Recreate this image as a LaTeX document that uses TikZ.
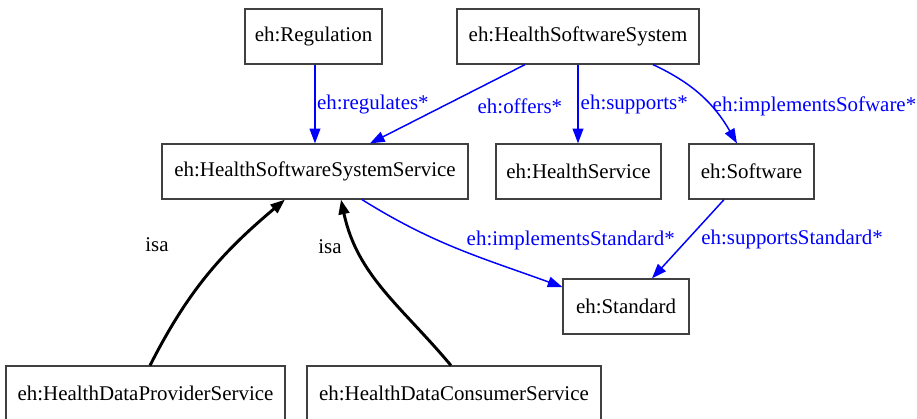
\documentclass[tikz,border=0pt]{standalone}
\usepackage{fontspec}
\setmainfont{Liberation Serif}
\usetikzlibrary{arrows.meta}

\begin{document}
\begin{tikzpicture}[x=0.75pt,y=-0.75pt]
	\tikzset{cls/.style={draw=black!75, line width=0.9pt, rectangle, inner sep=0pt, minimum height=41.25pt, minimum width=#1*0.75pt, font=\fontsize{15.7}{19}\selectfont},
		rel/.style={draw=blue, line width=1.1pt, -{Triangle[length=11pt, width=8pt]}},
		relname/.style={text=blue, inner sep=0pt, anchor=west, font=\fontsize{15.7}{19}\selectfont},
		isa/.style={draw=black, line width=2.2pt, -{Triangle[length=11pt, width=8pt]}},
		isaname/.style={inner sep=0pt, font=\fontsize{15.7}{19}\selectfont}}
	\useasboundingbox (0,0) rectangle (917,418);
	
	% Classes
	\node[cls=137] (reg) at (313.5,36.5) {eh:Regulation};
	\node[cls=242] (hss) at (578,36.5) {eh:HealthSoftwareSystem};
	\node[cls=306] (hsss) at (315,171.5) {eh:HealthSoftwareSystemService};
	\node[cls=165] (hs) at (578.5,171.5) {eh:HealthService};
	\node[cls=125] (sw) at (751.5,171.5) {eh:Software};
	\node[cls=126] (std) at (626,306.5) {eh:Standard};
	\node[cls=279] (hdps) at (145.5,393.5) {eh:HealthDataProviderService};
	\node[cls=294] (hdcs) at (454,393.5) {eh:HealthDataConsumerService};
	
	% Properties
	\draw[rel] ([xshift=1.1pt]reg.south) -- ([xshift=1.1pt]reg.south |- hsss.north)
		node[relname, midway, xshift=1pt] {eh:regulates*};
	\draw[rel] ([xshift=-39.75pt]hss.south) -- ([xshift=41.25pt]hsss.north)
		node[relname, pos=0.525, xshift=25pt] {eh:offers*};
	\draw[rel] (hss.south) -- (hss.south |- hs.north)
		node[relname, midway, xshift=1.5pt] {eh:supports*};
	\draw[rel] ([xshift=56.25pt]hss.south) to[out=-25, in=120] ([xshift=-10.9pt]sw.north)
		node[relname] at (712,106) {eh:implementsSofware*};
	\draw[rel] ([xshift=35.25pt]hsss.south) to[out=-32, in=160] ([yshift=14.6pt]std.west)
		node[relname] at (466,240) {eh:implementsStandard*};
	\draw[rel] ([xshift=-20.6pt]sw.south) -- ([xshift=19.5pt]std.north)
		node[relname, pos=0.51, xshift=10pt] {eh:supportsStandard*};
	
	% Subclasses
	\draw[isa] ([xshift=3.4pt]hdps.north) to[out=63, in=-140] ([xshift=-22.5pt]hsss.south)
		node[isaname] at (157,245) {isa};
	\draw[isa] ([xshift=-2.3pt]hdcs.north) to[out=130, in=-78] ([xshift=19.5pt]hsss.south)
		node[isaname] at (330,247) {isa};
\end{tikzpicture}
\end{document}
